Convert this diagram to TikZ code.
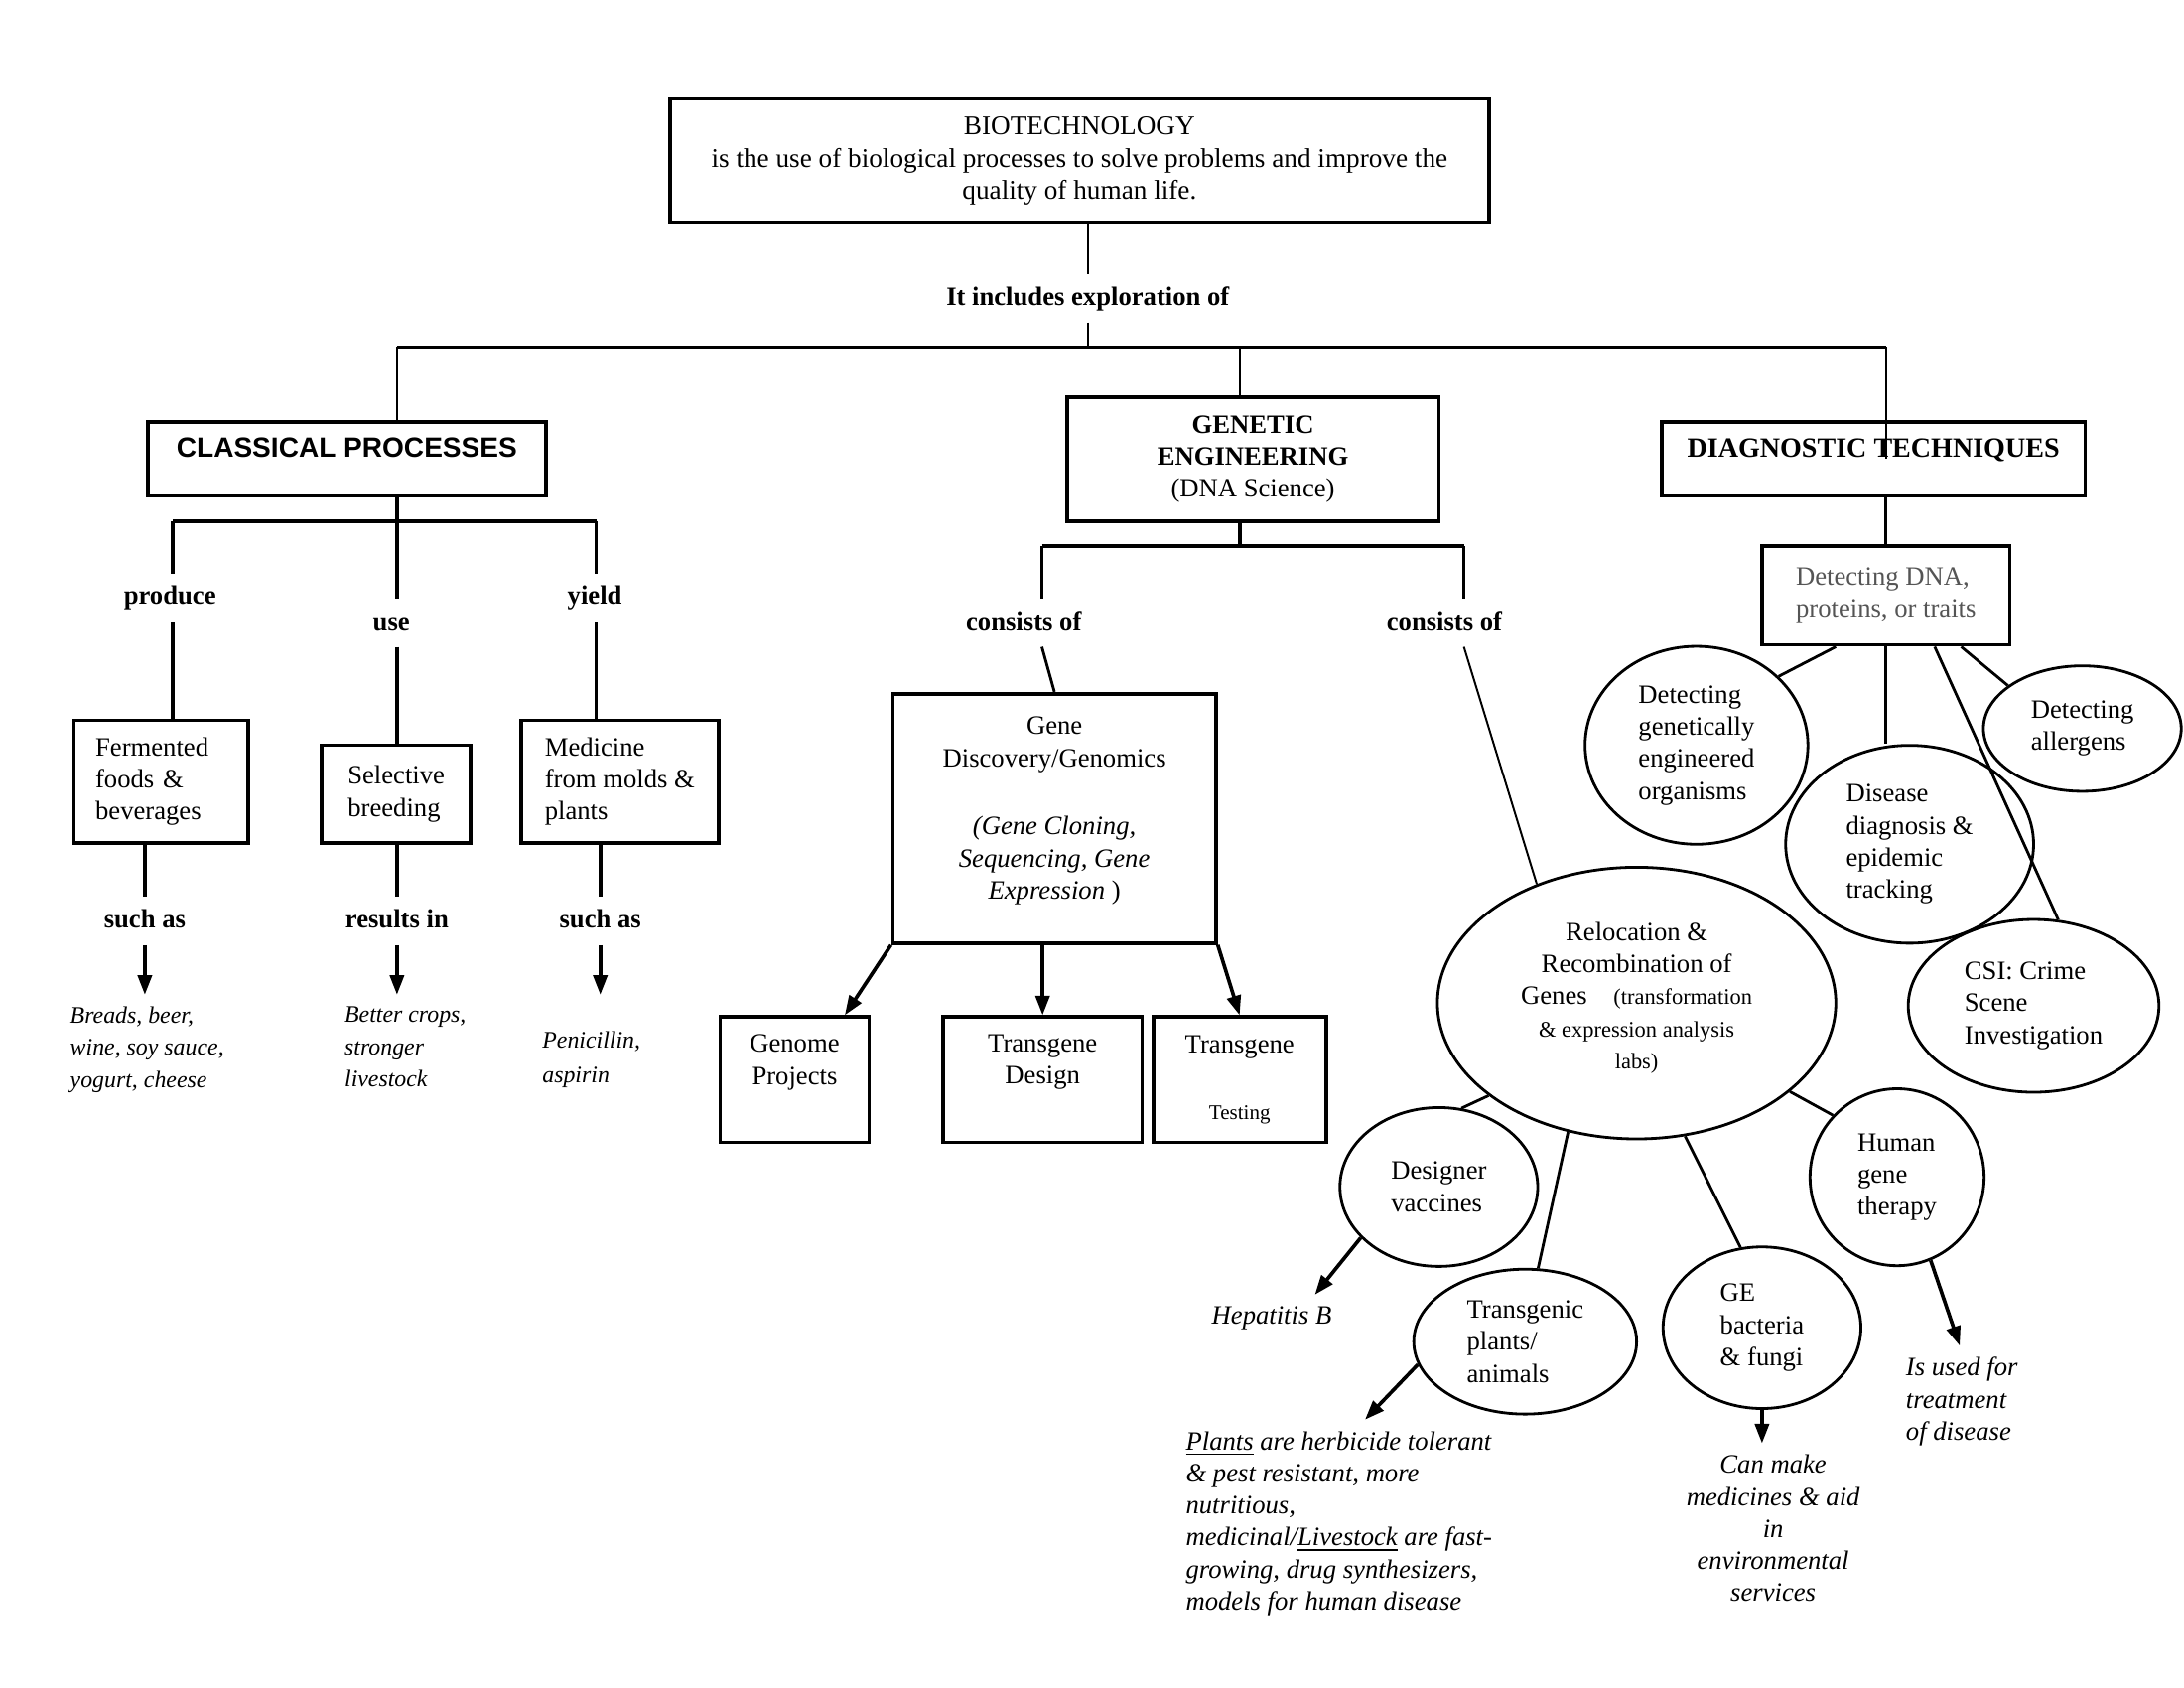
\documentclass[tikz,border=0pt]{standalone}
\usepackage{fontspec}
\setmainfont{Liberation Serif}
\setsansfont{Liberation Sans}
\usetikzlibrary{arrows.meta, shapes.geometric}
\newcommand{\bodysize}{\fontsize{9.5}{11.5}\selectfont}
\definecolor{boxgray}{RGB}{85,85,85}
\tikzstyle{conceptmap}=[x=0.5pt, y=-0.5pt, >={Triangle[length=7pt,width=5pt]}, font=\bodysize]
\tikzstyle{box}=[draw, rectangle, line width=1.3pt, inner sep=0pt, align=center]
\tikzstyle{bubble}=[draw, ellipse, line width=1pt, inner sep=0pt, align=left]
\tikzstyle{linkword}=[inner sep=4pt, text height=7pt, text depth=2pt, font=\bodysize\bfseries]
\tikzstyle{instance}=[inner sep=4pt, align=left, font=\bodysize\itshape]
\tikzstyle{heavy}=[line width=1.3pt]
\tikzstyle{wire}=[line width=0.7pt]
\tikzstyle{branch}=[line width=1pt]
\tikzstyle{flow}=[->, line width=1.3pt]

\begin{document}
\begin{tikzpicture}[conceptmap]
  \path[use as bounding box, fill=white] (0,0) rectangle (1568,1211);
  \node[box, minimum width=294pt, minimum height=44.5pt, font=\fontsize{9.7}{11.5}\selectfont] (0) at (775,115.5) {BIOTECHNOLOGY\\is the use of biological processes to solve problems and improve the\\quality of human life.};
  \node[linkword] (1) at (781,214) {It includes exploration of};
  \node[box, minimum width=143pt, minimum height=26.5pt, text height=7pt, text depth=8pt, font=\sffamily\bfseries\fontsize{10}{12}\selectfont] (2) at (249,329.5) {CLASSICAL PROCESSES};
  \node[box, minimum width=133.5pt, minimum height=44.5pt] (3) at (899.5,329.5) {\textbf{GENETIC}\\\textbf{ENGINEERING}\\(DNA Science)};
  \node[box, minimum width=152pt, minimum height=26.5pt, text height=7pt, text depth=8pt, font=\fontsize{10}{12}\selectfont\bfseries] (4) at (1345,329.5) {DIAGNOSTIC TECHNIQUES};
  \coordinate (b2) at (285,249);
  \coordinate (b3) at (890,249);
  \coordinate (b4) at (1354,249);
  \draw[wire] (1.north |- 0.south) -- (1.north);
  \draw[wire] (1.south) -- (1.south |- b3);
  \draw[heavy] (b2) -- (b4);
  \draw[wire] (b2) -- (b2 |- 2.north);
  \draw[wire] (b3) -- (b3 |- 3.north);
  \draw[wire] (b4) -- (b4 |- 4.center);

  \node[linkword] (5) at (122,429) {produce};
  \node[linkword] (6) at (281,447) {use};
  \node[linkword] (7) at (427,429) {yield};
  \node[box, minimum width=62.5pt, minimum height=44pt, text width=47pt, align=left] (8) at (115.5,561) {Fermented\\foods \&\\beverages};
  \node[box, minimum width=53.5pt, minimum height=35pt, align=left] (9) at (284.5,570) {Selective\\breeding};
  \node[box, minimum width=71pt, minimum height=44pt, align=left] (10) at (445,561) {Medicine\\from molds \&\\plants};
  \coordinate (c0) at (124,374);
  \coordinate (c2) at (428,374);
  \draw[heavy] (c0) -- (c2);
  \draw[heavy] (b2 |- 2.south) -- (b2 |- 6.north);
  \draw[heavy] (c0) -- (c0 |- 5.north);
  \draw[heavy] (c2) -- (c2 |- 7.north);
  \draw[heavy] (c0 |- 5.south) -- (c0 |- 8.north);
  \draw[heavy] (b2 |- 6.south) -- (b2 |- 9.north);
  \draw[heavy] (c2 |- 7.south) -- (c2 |- 10.north);
  \node[linkword] (11) at (104,661) {such as};
  \node[linkword] (12) at (285,661) {results in};
  \node[linkword] (13) at (431,661) {such as};
  \node[instance, anchor=north west, font=\fontsize{8.5}{11.7}\selectfont\itshape] (14) at (42,714) {Breads, beer,\\wine, soy sauce,\\yogurt, cheese};
  \node[instance, anchor=north west, font=\fontsize{8.5}{11.7}\selectfont\itshape] (15) at (239,714) {Better crops,\\stronger\\livestock};
  \node[instance, anchor=north west, font=\fontsize{8.5}{12.5}\selectfont\itshape] (16) at (381,732) {Penicillin,\\aspirin};
  \draw[heavy] (11.north |- 8.south) -- (11.north);
  \draw[heavy] (12.north |- 9.south) -- (12.north);
  \draw[heavy] (13.north |- 10.south) -- (13.north);
  \draw[flow] (11.south) -- (11.south |- 14.north);
  \draw[flow] (12.south) -- (12.south |- 15.north);
  \draw[flow, shorten >=9pt] (13.south) -- (13.south |- 16.north);

  \coordinate (g) at (890,392);
  \coordinate (g0) at (748,392);
  \coordinate (g1) at (1051,392);
  \draw[heavy] (g |- 3.south) -- (g);
  \draw[heavy] (g0) -- (g1);
  \node[linkword] (17) at (735,447) {consists of};
  \node[linkword] (18) at (1037,447) {consists of};
  \draw[heavy] (g0) -- (g0 |- 17.north);
  \draw[heavy] (g1) -- (g1 |- 18.north);
  \node[box, minimum width=116pt, minimum height=89.5pt] (19) at (757,587.5) {Gene\\Discovery/Genomics\\[13pt]\textit{(Gene Cloning,}\\\textit{Sequencing, Gene}\\\textit{Expression} )\\[-4pt]\mbox{}};
  \draw[branch] (g0 |- 17.south) -- (19.north);
  \node[box, minimum width=53.5pt, minimum height=45pt] (20) at (570.5,775) {Genome\\Projects\\[3pt]\mbox{}};
  \node[box, minimum width=71.5pt, minimum height=45pt] (21) at (748.5,775) {Transgene\\Design\\[3pt]\mbox{}};
  \node[box, minimum width=62pt, minimum height=45pt] (22) at (890,775) {Transgene\\[12.5pt]{\fontsize{7.5}{9}\selectfont Testing}};
  \draw[flow] (19.south west) -- ([xshift=18pt]20.north);
  \draw[flow] (19.south -| 21.north) -- (21.north);
  \draw[flow] (19.south east) -- (22.north);
  \node[bubble, align=center, minimum width=143pt, minimum height=97.5pt] (23) at (1175,720) {Relocation \&\\Recombination of\\Genes\quad{\fontsize{8}{10}\selectfont(transformation}\\{\fontsize{8}{10}\selectfont\& expression analysis}\\{\fontsize{8}{10}\selectfont labs)}\\[-6pt]\mbox{}};
  \draw[wire] (g1 |- 18.south) -- (23.130);

  \node[box, minimum width=89pt, minimum height=35.5pt, align=left, text=boxgray] (24) at (1354,427.5) {Detecting DNA,\\proteins, or traits};
  \draw[branch] (4.south -| 24.north) -- (24.north);
  \node[bubble, minimum width=80pt, minimum height=71pt] (25) at (1218,535) {Detecting\\genetically\\engineered\\organisms};
  \node[bubble, minimum width=89pt, minimum height=71pt] (26) at (1371,606) {Disease\\diagnosis \&\\epidemic\\tracking};
  \node[bubble, minimum width=71pt, minimum height=45pt] (27) at (1495,523) {Detecting\\allergens};
  \node[bubble, minimum width=90pt, minimum height=62pt] (28) at (1460,722) {CSI: Crime\\Scene\\Investigation};
  \draw[branch] ([xshift=-18pt]24.south) -- (25.40);
  \draw[branch] (24.south) -- (24.south |- 26.north);
  \draw[branch] ([xshift=17.5pt]24.south) -- (28.74);
  \draw[branch] ([xshift=27pt]24.south) -- (27.150);

  \node[bubble, minimum width=71pt, minimum height=57pt] (29) at (1033,852) {Designer\\vaccines};
  \node[bubble, minimum width=80pt, minimum height=52pt] (30) at (1095,963) {Transgenic\\plants/\\animals};
  \node[bubble, minimum width=71pt, minimum height=58pt] (31) at (1265,953) {GE\\bacteria\\\& fungi};
  \node[bubble, minimum width=62.5pt, minimum height=63.5pt] (32) at (1362,845) {Human\\gene\\therapy};
  \draw[branch] (23.212) -- (29.74);
  \draw[branch] (23.242) -- (30.80);
  \draw[branch] (23.290) -- (31.105);
  \draw[branch] (23.330) -- (32.136);
  \node[instance] (33) at (913,946) {Hepatitis B};
  \node[instance, anchor=north west] (34) at (843,1019) {\underline{Plants} are herbicide tolerant\\\& pest resistant, more\\nutritious,\\medicinal/\underline{Livestock} are fast-\\growing, drug synthesizers,\\models for human disease};
  \node[instance, anchor=north, align=center] (35) at (1273,1036) {Can make\\medicines \& aid\\in\\environmental\\services};
  \node[instance, anchor=north west] (36) at (1360,966) {Is used for\\treatment\\of disease};
  \draw[flow] (29.213) -- ([xshift=15.5pt]33.north);
  \draw[flow] (30.192) -- ([xshift=68.5pt]34.north west);
  \draw[flow] (31.south) -- (31.south |- 35.north);
  \draw[flow] (32.292) -- ([xshift=23.5pt]36.north west);
\end{tikzpicture}
\end{document}
